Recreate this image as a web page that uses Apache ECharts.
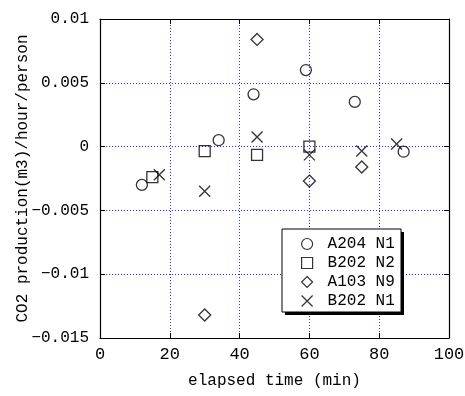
<!DOCTYPE html>
<html>
<head>
<meta charset="utf-8">
<script src="https://cdn.jsdelivr.net/npm/echarts@6/dist/echarts.min.js"></script>
<style>
  html, body { margin: 0; padding: 0; background: #fff; }
  #chart { width: 465px; height: 396px; }
</style>
</head>
<body>
<div id="chart"></div>
<script>
// Elapsed time (min) and CO2 production per person for each room / occupancy case
const seriesNames = ['A204 N1', 'B202 N2', 'A103 N9', 'B202 N1'];

const a204n1 = [[12, -0.003], [34, 0.0005], [44, 0.0041], [59, 0.006], [73, 0.0035], [87, -0.0004]];
const b202n2 = [[15, -0.0024], [30, -0.00035], [45, -0.00065], [60, 0.0]];
const a103n9 = [[30, -0.0132], [45, 0.0084], [60, -0.0027], [75, -0.0016]];
const b202n1 = [[17, -0.0022], [30, -0.0035], [45, 0.00075], [60, -0.00065], [75, -0.00035], [85, 0.0002]];

const xTicks = [0, 20, 40, 60, 80, 100];
const yTicks = [-0.015, -0.01, -0.005, 0, 0.005, 0.01];

const FONT = "'Liberation Mono', 'DejaVu Sans Mono', monospace";
const CROSS = 'path://M0,0L10,10M0,10L10,0';

function fmtY(v) {
  const r = Number(v.toFixed(4));
  return r < 0 ? '\u2212' + String(-r) : String(r);
}

const gridLine = { show: true, lineStyle: { color: '#2a2aff', width: 1, type: [1, 2] } };
const frameLine = { show: true, onZero: false, lineStyle: { color: '#000', width: 1.2 } };
const inTick = { show: true, inside: true, length: 5, lineStyle: { color: '#000', width: 1 } };

function mark(name, data, symbol, size) {
  return {
    name: name,
    type: 'scatter',
    data: data,
    symbol: symbol,
    symbolSize: size,
    itemStyle: { color: 'rgba(0,0,0,0)', borderColor: '#000', borderWidth: 1.3 },
    emphasis: { disabled: true }
  };
}

// legend box geometry
const LEG_X = 282, LEG_Y = 229, LEG_W = 119, LEG_H = 83;

const chart = echarts.init(document.getElementById('chart'), null, { renderer: 'canvas' });
chart.setOption({
  animation: false,
  backgroundColor: '#fff',
  textStyle: { fontFamily: FONT },
  grid: { left: 100, right: 16, top: 19, bottom: 58, containLabel: false, outerBoundsMode: 'none' },
  xAxis: [{
    type: 'value',
    min: xTicks[0], max: xTicks[xTicks.length - 1], interval: 20,
    name: 'elapsed time (min)',
    nameLocation: 'middle',
    nameGap: 35,
    nameMoveOverlap: false,
    nameTextStyle: { fontFamily: FONT, fontSize: 16, color: '#000' },
    axisLine: frameLine,
    axisTick: inTick,
    axisLabel: { fontFamily: FONT, fontSize: 17, color: '#000', margin: 8 },
    splitLine: gridLine
  }, {
    type: 'value', position: 'top',
    min: xTicks[0], max: xTicks[xTicks.length - 1], interval: 20,
    axisLine: frameLine, axisTick: inTick,
    axisLabel: { show: false }, splitLine: { show: false }
  }],
  yAxis: [{
    type: 'value',
    min: yTicks[0], max: yTicks[yTicks.length - 1], interval: 0.005,
    name: 'CO2 production(m3)/hour/person',
    nameLocation: 'middle',
    nameGap: 69,
    nameMoveOverlap: false,
    nameTextStyle: { fontFamily: FONT, fontSize: 16, color: '#000' },
    axisLine: frameLine,
    axisTick: inTick,
    axisLabel: { fontFamily: FONT, fontSize: 16, color: '#000', margin: 11, padding: [0, 0, 6, 0], formatter: fmtY },
    splitLine: gridLine
  }, {
    type: 'value', position: 'right',
    min: yTicks[0], max: yTicks[yTicks.length - 1], interval: 0.005,
    axisLine: frameLine, axisTick: inTick,
    axisLabel: { show: false }, splitLine: { show: false }
  }],
  graphic: [{
    // drop shadow of the legend box
    type: 'rect',
    z: 20,
    shape: { x: LEG_X + 3, y: LEG_Y + 3, width: LEG_W, height: LEG_H },
    style: { fill: '#000' },
    silent: true
  }, {
    type: 'rect',
    z: 21,
    shape: { x: LEG_X, y: LEG_Y, width: LEG_W, height: LEG_H },
    style: { fill: '#fff', stroke: '#000', lineWidth: 1 },
    silent: true
  }],
  legend: {
    data: seriesNames,
    orient: 'vertical',
    z: 30,
    left: LEG_X, top: LEG_Y,
    padding: [7, 8, 3, 19],
    itemWidth: 11, itemHeight: 11, itemGap: 3,
    selectedMode: false,
    itemStyle: { borderWidth: 1.2, borderColor: '#000' },
    textStyle: { fontFamily: FONT, fontSize: 16, color: '#000', lineHeight: 16, padding: [0, 0, 0, 10] }
  },
  series: [
    mark(seriesNames[0], a204n1, 'circle', 11),
    mark(seriesNames[1], b202n2, 'rect', 11),
    mark(seriesNames[2], a103n9, 'diamond', 12),
    mark(seriesNames[3], b202n1, CROSS, 11)
  ]
});
</script>
</body>
</html>
